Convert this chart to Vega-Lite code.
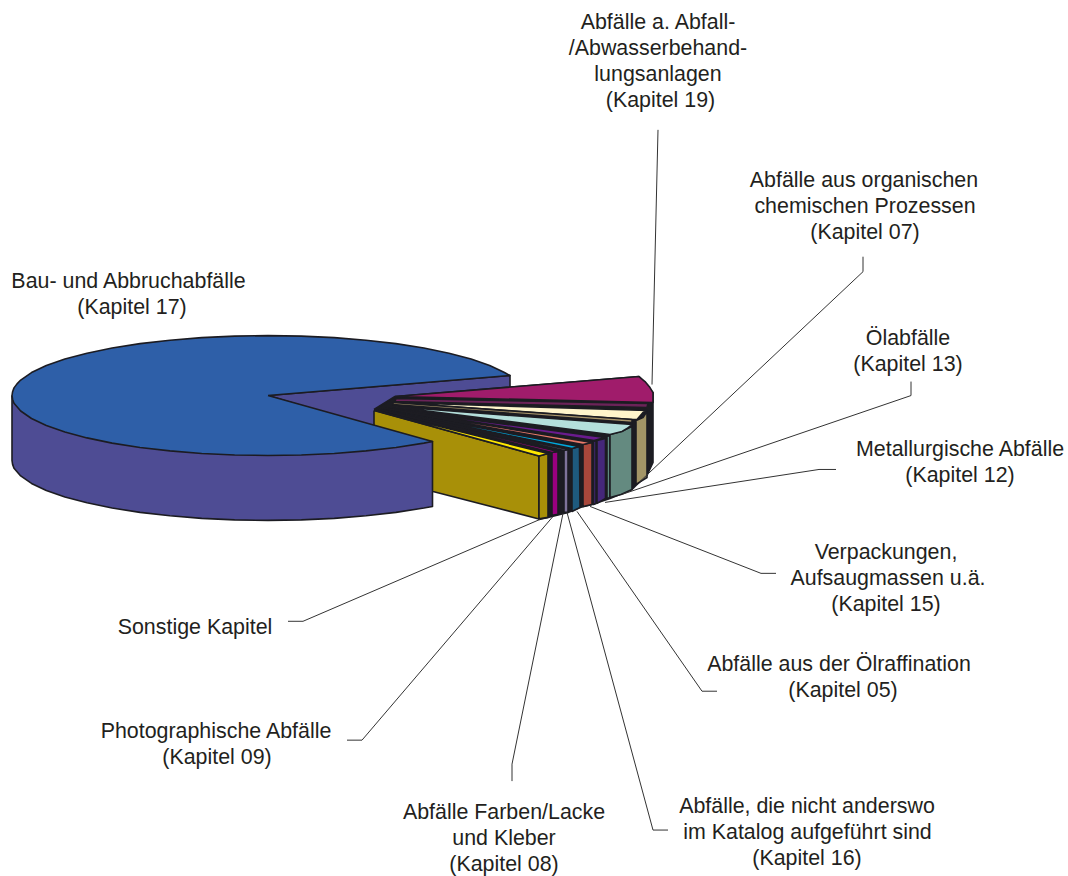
{"$schema":"https://vega.github.io/schema/vega-lite/v6.json","width":1068,"height":876,"autosize":{"type":"fit","contains":"padding"},"padding":0,"background":"white","config":{"view":{"stroke":null}},
"datasets":{
"polys":[
{"p":"innerwall","n":1,"x":268,"y":396},{"p":"innerwall","n":2,"x":510,"y":376},{"p":"innerwall","n":3,"x":510,"y":430},{"p":"innerwall","n":4,"x":380,"y":430},{"p":"innerwall","n":5,"x":268,"y":396},
{"p":"dark","n":1,"x":374,"y":410},{"p":"dark","n":2,"x":395,"y":397},{"p":"dark","n":3,"x":639,"y":377},{"p":"dark","n":4,"x":653,"y":393},{"p":"dark","n":5,"x":653,"y":463},{"p":"dark","n":6,"x":647,"y":476},{"p":"dark","n":7,"x":636,"y":486},{"p":"dark","n":8,"x":632,"y":490},{"p":"dark","n":9,"x":610,"y":499},{"p":"dark","n":10,"x":592,"y":505},{"p":"dark","n":11,"x":580,"y":508},{"p":"dark","n":12,"x":568,"y":513},{"p":"dark","n":13,"x":548,"y":518},{"p":"dark","n":14,"x":539,"y":520},{"p":"dark","n":15,"x":539,"y":456},{"p":"dark","n":16,"x":374,"y":410},
{"p":"goldA","n":1,"x":374,"y":411},{"p":"goldA","n":2,"x":539,"y":456.5},{"p":"goldA","n":3,"x":539,"y":519.5},{"p":"goldA","n":4,"x":433,"y":492},{"p":"goldA","n":5,"x":374,"y":475},{"p":"goldA","n":6,"x":374,"y":411},
{"p":"goldB","n":1,"x":539,"y":456.5},{"p":"goldB","n":2,"x":548,"y":454},{"p":"goldB","n":3,"x":548,"y":518},{"p":"goldB","n":4,"x":539,"y":519.5},{"p":"goldB","n":5,"x":539,"y":456.5},
{"p":"magW","n":1,"x":552,"y":453},{"p":"magW","n":2,"x":558,"y":452},{"p":"magW","n":3,"x":558,"y":515},{"p":"magW","n":4,"x":552,"y":516},{"p":"magW","n":5,"x":552,"y":453},
{"p":"greyW","n":1,"x":564,"y":451},{"p":"greyW","n":2,"x":568,"y":450},{"p":"greyW","n":3,"x":568,"y":513},{"p":"greyW","n":4,"x":564,"y":513},{"p":"greyW","n":5,"x":564,"y":451},
{"p":"blueW","n":1,"x":572,"y":449},{"p":"blueW","n":2,"x":579.5,"y":447},{"p":"blueW","n":3,"x":580,"y":508},{"p":"blueW","n":4,"x":572,"y":512},{"p":"blueW","n":5,"x":572,"y":449},
{"p":"salW","n":1,"x":583,"y":445},{"p":"salW","n":2,"x":592,"y":443},{"p":"salW","n":3,"x":592,"y":505},{"p":"salW","n":4,"x":583,"y":507},{"p":"salW","n":5,"x":583,"y":445},
{"p":"purS","n":1,"x":593.5,"y":442},{"p":"purS","n":2,"x":596,"y":441},{"p":"purS","n":3,"x":596,"y":504},{"p":"purS","n":4,"x":593.5,"y":505},{"p":"purS","n":5,"x":593.5,"y":442},
{"p":"purW","n":1,"x":597,"y":441},{"p":"purW","n":2,"x":605.5,"y":439},{"p":"purW","n":3,"x":605.5,"y":499},{"p":"purW","n":4,"x":597,"y":504},{"p":"purW","n":5,"x":597,"y":441},
{"p":"greenS","n":1,"x":607,"y":437},{"p":"greenS","n":2,"x":610,"y":436},{"p":"greenS","n":3,"x":610,"y":498},{"p":"greenS","n":4,"x":607,"y":499},{"p":"greenS","n":5,"x":607,"y":437},
{"p":"tealW","n":1,"x":610,"y":435},{"p":"tealW","n":2,"x":621,"y":432},{"p":"tealW","n":3,"x":632,"y":427},{"p":"tealW","n":4,"x":632,"y":490},{"p":"tealW","n":5,"x":621,"y":495},{"p":"tealW","n":6,"x":610,"y":498},{"p":"tealW","n":7,"x":610,"y":435},
{"p":"tanW","n":1,"x":636,"y":421},{"p":"tanW","n":2,"x":643,"y":418},{"p":"tanW","n":3,"x":647,"y":412},{"p":"tanW","n":4,"x":647,"y":478},{"p":"tanW","n":5,"x":636,"y":485},{"p":"tanW","n":6,"x":636,"y":421},
{"p":"magT","n":1,"x":395,"y":397},{"p":"magT","n":2,"x":639,"y":377},{"p":"magT","n":3,"x":645,"y":382},{"p":"magT","n":4,"x":650,"y":388},{"p":"magT","n":5,"x":653,"y":393},{"p":"magT","n":6,"x":653,"y":403},{"p":"magT","n":7,"x":395,"y":397},
{"p":"plumT","n":1,"x":396,"y":399},{"p":"plumT","n":2,"x":648,"y":404},{"p":"plumT","n":3,"x":647,"y":408},{"p":"plumT","n":4,"x":395,"y":402},{"p":"plumT","n":5,"x":396,"y":399},
{"p":"creamT","n":1,"x":395,"y":403},{"p":"creamT","n":2,"x":647,"y":411},{"p":"creamT","n":3,"x":643,"y":413},{"p":"creamT","n":4,"x":637,"y":420},{"p":"creamT","n":5,"x":632,"y":420},{"p":"creamT","n":6,"x":395,"y":403},
{"p":"tanT","n":1,"x":393,"y":403},{"p":"tanT","n":2,"x":632,"y":420},{"p":"tanT","n":3,"x":632,"y":423},{"p":"tanT","n":4,"x":393,"y":405},{"p":"tanT","n":5,"x":393,"y":403},
{"p":"tealT","n":1,"x":392,"y":407},{"p":"tealT","n":2,"x":632,"y":425},{"p":"tealT","n":3,"x":627,"y":429},{"p":"tealT","n":4,"x":622,"y":432},{"p":"tealT","n":5,"x":610,"y":435},{"p":"tealT","n":6,"x":392,"y":407},
{"p":"purT","n":1,"x":388,"y":409},{"p":"purT","n":2,"x":605,"y":438},{"p":"purT","n":3,"x":594,"y":441},{"p":"purT","n":4,"x":388,"y":409},
{"p":"salT","n":1,"x":385,"y":409},{"p":"salT","n":2,"x":592,"y":443},{"p":"salT","n":3,"x":583,"y":445},{"p":"salT","n":4,"x":385,"y":409},
{"p":"cyanT","n":1,"x":383,"y":410},{"p":"cyanT","n":2,"x":579,"y":447},{"p":"cyanT","n":3,"x":572,"y":449},{"p":"cyanT","n":4,"x":383,"y":410},
{"p":"greyT","n":1,"x":381,"y":410},{"p":"greyT","n":2,"x":568,"y":450},{"p":"greyT","n":3,"x":564,"y":451},{"p":"greyT","n":4,"x":381,"y":410},
{"p":"magS","n":1,"x":379,"y":410},{"p":"magS","n":2,"x":558,"y":452},{"p":"magS","n":3,"x":552,"y":453},{"p":"magS","n":4,"x":379,"y":410},
{"p":"yelT","n":1,"x":375,"y":411},{"p":"yelT","n":2,"x":548,"y":454},{"p":"yelT","n":3,"x":539,"y":456.5},{"p":"yelT","n":4,"x":375,"y":411},
{"p":"outer","n":1,"x":12,"y":396},{"p":"outer","n":2,"x":12,"y":461},{"p":"outer","n":3,"x":12.6,"y":464.9},{"p":"outer","n":4,"x":14,"y":468.7},{"p":"outer","n":5,"x":20.7,"y":476.5},{"p":"outer","n":6,"x":31.5,"y":484},{"p":"outer","n":7,"x":46.3,"y":491},{"p":"outer","n":8,"x":64.9,"y":497.5},{"p":"outer","n":9,"x":87,"y":503.4},{"p":"outer","n":10,"x":112.1,"y":508.6},{"p":"outer","n":11,"x":140,"y":513},{"p":"outer","n":12,"x":170,"y":516.4},{"p":"outer","n":13,"x":201.7,"y":519},{"p":"outer","n":14,"x":234.6,"y":520.5},{"p":"outer","n":15,"x":268,"y":521},{"p":"outer","n":16,"x":301.4,"y":520.5},{"p":"outer","n":17,"x":334.3,"y":519},{"p":"outer","n":18,"x":366,"y":516.4},{"p":"outer","n":19,"x":396,"y":513},{"p":"outer","n":20,"x":423.9,"y":508.6},{"p":"outer","n":21,"x":432.5,"y":507},{"p":"outer","n":22,"x":432.5,"y":442},{"p":"outer","n":23,"x":268,"y":440},{"p":"outer","n":24,"x":12,"y":396},
{"p":"top","n":1,"x":268,"y":396},{"p":"top","n":2,"x":510,"y":376},{"p":"top","n":3,"x":504.5,"y":373},{"p":"top","n":4,"x":489.7,"y":366},{"p":"top","n":5,"x":471.1,"y":359.5},{"p":"top","n":6,"x":449,"y":353.6},{"p":"top","n":7,"x":423.9,"y":348.4},{"p":"top","n":8,"x":396,"y":344},{"p":"top","n":9,"x":366,"y":340.6},{"p":"top","n":10,"x":334.3,"y":338},{"p":"top","n":11,"x":301.4,"y":336.5},{"p":"top","n":12,"x":268,"y":336},{"p":"top","n":13,"x":234.6,"y":336.5},{"p":"top","n":14,"x":201.7,"y":338},{"p":"top","n":15,"x":170,"y":340.6},{"p":"top","n":16,"x":140,"y":344},{"p":"top","n":17,"x":112.1,"y":348.4},{"p":"top","n":18,"x":87,"y":353.6},{"p":"top","n":19,"x":64.9,"y":359.5},{"p":"top","n":20,"x":46.3,"y":366},{"p":"top","n":21,"x":31.5,"y":373},{"p":"top","n":22,"x":20.7,"y":380.5},{"p":"top","n":23,"x":17,"y":384.3},{"p":"top","n":24,"x":14,"y":388.3},{"p":"top","n":25,"x":12.6,"y":392.1},{"p":"top","n":26,"x":12,"y":396},{"p":"top","n":27,"x":12.6,"y":399.9},{"p":"top","n":28,"x":14,"y":403.7},{"p":"top","n":29,"x":20.7,"y":411.5},{"p":"top","n":30,"x":31.5,"y":419},{"p":"top","n":31,"x":46.3,"y":426},{"p":"top","n":32,"x":64.9,"y":432.5},{"p":"top","n":33,"x":87,"y":438.4},{"p":"top","n":34,"x":112.1,"y":443.6},{"p":"top","n":35,"x":140,"y":448},{"p":"top","n":36,"x":170,"y":451.4},{"p":"top","n":37,"x":201.7,"y":454},{"p":"top","n":38,"x":234.6,"y":455.5},{"p":"top","n":39,"x":268,"y":456},{"p":"top","n":40,"x":301.4,"y":455.5},{"p":"top","n":41,"x":334.3,"y":454},{"p":"top","n":42,"x":366,"y":451.4},{"p":"top","n":43,"x":396,"y":448},{"p":"top","n":44,"x":423.9,"y":443.6},{"p":"top","n":45,"x":432.5,"y":442},{"p":"top","n":46,"x":268,"y":396}
],
"leaders":[
{"k":"19","n":1,"x":658,"y":130},{"k":"19","n":2,"x":652,"y":385},
{"k":"07","n":1,"x":863,"y":257},{"k":"07","n":2,"x":863,"y":272},{"k":"07","n":3,"x":640,"y":482},
{"k":"13","n":1,"x":911,"y":382},{"k":"13","n":2,"x":911,"y":396},{"k":"13","n":3,"x":622,"y":495},
{"k":"12","n":1,"x":836,"y":470},{"k":"12","n":2,"x":819,"y":470},{"k":"12","n":3,"x":605,"y":503},
{"k":"15","n":1,"x":776,"y":574},{"k":"15","n":2,"x":761,"y":574},{"k":"15","n":3,"x":590,"y":507},
{"k":"05","n":1,"x":717,"y":692},{"k":"05","n":2,"x":702,"y":692},{"k":"05","n":3,"x":577,"y":512},
{"k":"16","n":1,"x":668,"y":831},{"k":"16","n":2,"x":653,"y":831},{"k":"16","n":3,"x":567,"y":513},
{"k":"08","n":1,"x":512,"y":782},{"k":"08","n":2,"x":512,"y":765},{"k":"08","n":3,"x":563,"y":514},
{"k":"09","n":1,"x":347,"y":741},{"k":"09","n":2,"x":362,"y":741},{"k":"09","n":3,"x":553,"y":517},
{"k":"S","n":1,"x":288,"y":622},{"k":"S","n":2,"x":303,"y":622},{"k":"S","n":3,"x":540,"y":520}
],
"labels":[
{"t":"Abfälle a. Abfall-","x":658,"y":23},{"t":"/Abwasserbehand-","x":658,"y":49},{"t":"lungsanlagen","x":658,"y":75},{"t":"(Kapitel 19)","x":660.5,"y":101},
{"t":"Abfälle aus organischen","x":864,"y":181},{"t":"chemischen Prozessen","x":865,"y":207},{"t":"(Kapitel 07)","x":865,"y":233},
{"t":"Bau- und Abbruchabfälle","x":128.5,"y":282},{"t":"(Kapitel 17)","x":132,"y":308},
{"t":"Ölabfälle","x":908,"y":339},{"t":"(Kapitel 13)","x":908,"y":365},
{"t":"Metallurgische Abfälle","x":960,"y":451},{"t":"(Kapitel 12)","x":960,"y":477},
{"t":"Verpackungen,","x":886,"y":554},{"t":"Aufsaugmassen u.ä.","x":888,"y":580},{"t":"(Kapitel 15)","x":886,"y":606},
{"t":"Sonstige Kapitel","x":195,"y":629},
{"t":"Abfälle aus der Ölraffination","x":839,"y":666},{"t":"(Kapitel 05)","x":843,"y":692},
{"t":"Photographische Abfälle","x":216,"y":733},{"t":"(Kapitel 09)","x":217,"y":759},
{"t":"Abfälle, die nicht anderswo","x":807,"y":808},{"t":"im Katalog aufgeführt sind","x":807.5,"y":834},{"t":"(Kapitel 16)","x":807,"y":860},
{"t":"Abfälle Farben/Lacke","x":504,"y":814},{"t":"und Kleber","x":504,"y":840},{"t":"(Kapitel 08)","x":504,"y":866}
]},
"layer":[
{"data":{"name":"polys"},"mark":{"type":"line","stroke":"#1c1c22","strokeWidth":1.6,"strokeJoin":"round","interpolate":"linear"},
"encoding":{"x":{"field":"x","type":"quantitative","scale":{"domain":[0,1068],"nice":false,"zero":false},"axis":null},"y":{"field":"y","type":"quantitative","scale":{"domain":[876,0],"nice":false,"zero":false},"axis":null},
"order":{"field":"n","type":"ordinal"},
"fill":{"field":"p","type":"nominal","legend":null,"scale":{"domain":["innerwall","dark","goldA","goldB","magW","greyW","blueW","salW","purS","purW","greenS","tealW","tanW","magT","plumT","creamT","tanT","tealT","purT","salT","cyanT","greyT","magS","yelT","outer","top"],"range":["#4E4C94","#1c1c22","#A89008","#A89008","#9A0080","#7E7399","#1E5A7E","#A8473B","#45277A","#45277A","#5F8A80","#648A80","#A39566","#A01C6B","#6B2358","#FFF5CB","#A8956A","#B4DFDB","#6A1B8E","#E87A6A","#00A8DC","#7E7399","#A0007F","#FFE800","#4E4C94","#2E5FA8"]}}}},
{"data":{"name":"leaders"},"mark":{"type":"line","stroke":"#333333","strokeWidth":1},
"encoding":{"x":{"field":"x","type":"quantitative"},"y":{"field":"y","type":"quantitative"},"detail":{"field":"k","type":"nominal"},"order":{"field":"n","type":"ordinal"}}},
{"data":{"name":"labels"},"mark":{"type":"text","font":"Liberation Sans","fontSize":21.4,"align":"center","baseline":"middle","fill":"#231F20"},
"encoding":{"x":{"field":"x","type":"quantitative"},"y":{"field":"y","type":"quantitative"},"text":{"field":"t","type":"nominal"}}}
]}
